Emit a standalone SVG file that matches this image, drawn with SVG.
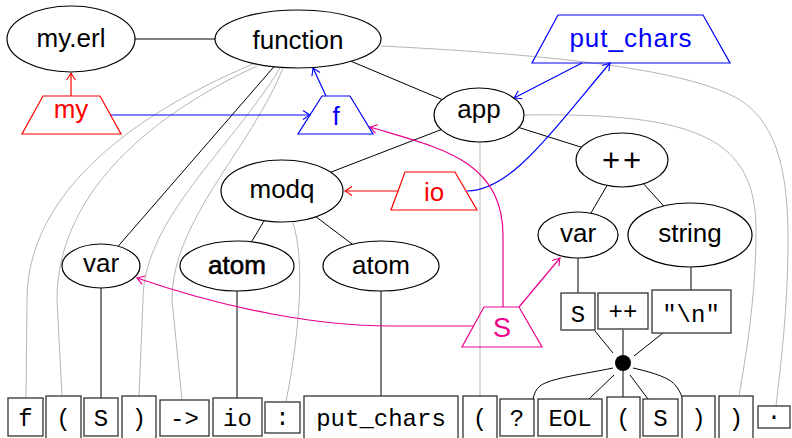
<svg xmlns="http://www.w3.org/2000/svg" width="792" height="438" viewBox="0 0 792 438">
  <style>
    .edge { stroke: #000; stroke-width: 1; fill: none; }
    .faint { stroke: #b5b5b5; stroke-width: 1; fill: none; }
    .ell { fill: #fff; stroke: #000; stroke-width: 1.2; }
    .lbl { font-family: "Liberation Sans", Arial, sans-serif; font-size: 26px; text-anchor: middle; fill: #000; }
    .tok { fill: #fff; stroke: #333; stroke-width: 1.3; }
    .tt { font-family: "Liberation Mono", "Courier New", monospace; font-size: 24px; text-anchor: middle; fill: #000; }
    .red { stroke: #ff0000; fill: none; stroke-width: 1.2; }
    .blue { stroke: #0000ff; fill: none; stroke-width: 1.2; }
    .pink { stroke: #ec008c; fill: none; stroke-width: 1.2; }
  </style>
  <defs>
    <marker id="ah-red" viewBox="-9 -6 11 12" refX="0" refY="0" markerWidth="11" markerHeight="12" markerUnits="userSpaceOnUse" orient="auto">
      <path d="M-7,-4.5 Q-2,-1 0,0 Q-2,1 -7,4.5" fill="none" stroke="#ff0000" stroke-width="1.1"/>
    </marker>
    <marker id="ah-blue" viewBox="-9 -6 11 12" refX="0" refY="0" markerWidth="11" markerHeight="12" markerUnits="userSpaceOnUse" orient="auto">
      <path d="M-7,-4.5 Q-2,-1 0,0 Q-2,1 -7,4.5" fill="none" stroke="#0000ff" stroke-width="1.1"/>
    </marker>
    <marker id="ah-pink" viewBox="-9 -6 11 12" refX="0" refY="0" markerWidth="11" markerHeight="12" markerUnits="userSpaceOnUse" orient="auto">
      <path d="M-7,-4.5 Q-2,-1 0,0 Q-2,1 -7,4.5" fill="none" stroke="#ec008c" stroke-width="1.1"/>
    </marker>
  </defs>

  <g id="connectors">
    <!-- token links (grey) -->
    <path class="faint" d="M253,64 C120,120 27,200 27,300 L26,398"/>
    <path class="faint" d="M257,66 C140,120 57,200 57,300 L62,396"/>
    <path class="faint" d="M280,68 C230,150 143,220 143,300 L139,396"/>
    <path class="faint" d="M283,68 C250,150 172,220 172,300 L182,400"/>
    <path class="faint" d="M293,223 C305,260 300,330 286,402"/>
    <path class="faint" d="M480,142 L480,396"/>
    <path class="faint" d="M524,115 C700,112 756,140 756,230 C756,300 745,360 739,396"/>
    <path class="faint" d="M381,46 C560,55 690,70 740,100 C780,125 788,180 788,240 C788,310 780,370 776,406"/>

    <!-- syntax tree (black) -->
    <line class="edge" x1="135" y1="39" x2="215" y2="39"/>
    <line class="edge" x1="298" y1="39" x2="479" y2="115"/>
    <line class="edge" x1="298" y1="39" x2="101" y2="266"/>
    <line class="edge" x1="479" y1="115" x2="282" y2="191"/>
    <line class="edge" x1="479" y1="115" x2="622" y2="160"/>
    <line class="edge" x1="282" y1="191" x2="237" y2="266"/>
    <line class="edge" x1="282" y1="191" x2="381" y2="266"/>
    <line class="edge" x1="622" y1="160" x2="578" y2="235"/>
    <line class="edge" x1="622" y1="160" x2="690" y2="235"/>
    <line class="edge" x1="101" y1="266" x2="101" y2="398"/>
    <line class="edge" x1="237" y1="266" x2="237" y2="398"/>
    <line class="edge" x1="381" y1="266" x2="381" y2="397"/>
    <line class="edge" x1="578" y1="235" x2="578" y2="293"/>
    <line class="edge" x1="691" y1="235" x2="691" y2="290"/>

    <!-- junction fan -->
    <line class="edge" x1="613" y1="353" x2="595" y2="331"/>
    <line class="edge" x1="623" y1="355" x2="623" y2="330"/>
    <line class="edge" x1="634" y1="356" x2="663" y2="333"/>
    <path class="edge" d="M613,368 C585,374 550,378 540,386 C536,389 534,394 533,399"/>
    <line class="edge" x1="614" y1="375" x2="589" y2="399"/>
    <line class="edge" x1="623" y1="371" x2="623" y2="397"/>
    <line class="edge" x1="630" y1="375" x2="648" y2="399"/>
    <path class="edge" d="M633,368 C655,373 670,378 676,386 C679,390 681,394 682,397"/>

    <!-- coloured links -->
    <line class="red" x1="71" y1="96" x2="71" y2="73" marker-end="url(#ah-red)"/>
    <line class="red" x1="398" y1="191" x2="345" y2="191" marker-end="url(#ah-red)"/>
    <line class="blue" x1="110" y1="115" x2="310" y2="115" marker-end="url(#ah-blue)"/>
    <line class="blue" x1="326" y1="96" x2="313" y2="68" marker-end="url(#ah-blue)"/>
    <line class="blue" x1="582" y1="63" x2="514" y2="98" marker-end="url(#ah-blue)"/>
    <path class="blue" d="M467,191 C510,190 545,140 610,63" marker-end="url(#ah-blue)"/>
    <path class="pink" d="M503,307 L503,235 C503,160 440,148 370,127" marker-end="url(#ah-pink)"/>
    <line class="pink" x1="519" y1="307" x2="560" y2="258" marker-end="url(#ah-pink)"/>
    <path class="pink" d="M474,326 L390,326 C320,326 230,310 137,278" marker-end="url(#ah-pink)"/>
  </g>

  <!-- tree nodes -->
  <g id="n-myerl"><ellipse class="ell" cx="71" cy="39" rx="64" ry="33"/><text class="lbl" x="71" y="47">my.erl</text></g>
  <g id="n-function"><ellipse class="ell" cx="298" cy="39" rx="83" ry="29"/><text class="lbl" x="298" y="49">function</text></g>
  <g id="n-app"><ellipse class="ell" cx="479" cy="115" rx="45" ry="27"/><text class="lbl" x="479" y="118">app</text></g>
  <g id="n-modq"><ellipse class="ell" cx="282" cy="191" rx="61" ry="31"/><text class="lbl" x="282" y="198">modq</text></g>
  <g id="n-var1"><ellipse class="ell" cx="101" cy="266" rx="39" ry="22"/><text class="lbl" x="101" y="272">var</text></g>
  <g id="n-atom1"><ellipse class="ell" cx="237" cy="266" rx="57" ry="25" stroke-width="2"/><text class="lbl" x="237" y="274" stroke="#000" stroke-width="0.6">atom</text></g>
  <g id="n-atom2"><ellipse class="ell" cx="381" cy="266" rx="58" ry="25"/><text class="lbl" x="381" y="274">atom</text></g>
  <g id="n-concat"><ellipse class="ell" cx="622" cy="160" rx="46" ry="27"/><text class="lbl" x="623" y="171" style="font-size:31px;letter-spacing:3px">++</text></g>
  <g id="n-var2"><ellipse class="ell" cx="578" cy="235" rx="40" ry="23"/><text class="lbl" x="578" y="242">var</text></g>
  <g id="n-string"><ellipse class="ell" cx="690" cy="235" rx="62" ry="32"/><text class="lbl" x="690" y="242">string</text></g>

  <!-- name nodes -->
  <g id="n-my"><polygon class="red" points="43,96 100,96 121,134 22,134"/><text class="lbl" x="71" y="118" style="fill:#ff0000">my</text></g>
  <g id="n-f"><polygon class="blue" points="322,96 350,96 373,134 298,134"/><text class="lbl" x="336" y="125" style="fill:#0000ff">f</text></g>
  <g id="n-putchars"><polygon class="blue" points="558,15 703,15 730,63 532,63"/><text class="lbl" x="631" y="47" style="fill:#0000ff;letter-spacing:1px">put_chars</text></g>
  <g id="n-io"><polygon class="red" points="405,172 455,172 477,210 391,210"/><text class="lbl" x="434" y="201" style="fill:#ff0000">io</text></g>
  <g id="n-S"><polygon class="pink" points="484,307 519,307 542,347 462,347"/><text class="lbl" x="502" y="337" style="fill:#ec008c;font-size:27px">S</text></g>

  <!-- string pieces -->
  <g id="t-S2"><rect class="tok" x="561" y="293" width="34" height="37"/><text class="tt" x="578" y="322">S</text></g>
  <g id="t-pp"><rect class="tok" x="598" y="293" width="50" height="36"/><text class="tt" x="623" y="319">++</text></g>
  <g id="t-nl"><rect class="tok" x="652" y="290" width="79" height="43"/><text class="tt" x="691" y="322">"\n"</text></g>
  <g id="junction"><circle cx="623" cy="363" r="8" fill="#000"/></g>

  <!-- token row -->
  <g id="t-f"><rect class="tok" x="8" y="398" width="35" height="38"/><text class="tt" x="25.5" y="426">f</text></g>
  <g id="t-lp1"><rect class="tok" x="46" y="396" width="35" height="50"/><text class="tt" x="63.5" y="426">(</text></g>
  <g id="t-S1"><rect class="tok" x="84" y="398" width="34" height="38"/><text class="tt" x="101" y="426">S</text></g>
  <g id="t-rp1"><rect class="tok" x="122" y="396" width="34" height="50"/><text class="tt" x="139" y="426">)</text></g>
  <g id="t-arrow"><rect class="tok" x="160" y="400" width="49" height="36"/><text class="tt" x="184.5" y="426">-&gt;</text></g>
  <g id="t-io"><rect class="tok" x="213" y="398" width="49" height="38"/><text class="tt" x="237.5" y="426">io</text></g>
  <g id="t-colon"><rect class="tok" x="265" y="402" width="35" height="31"/><text class="tt" x="282.5" y="425">:</text></g>
  <g id="t-putchars"><rect class="tok" x="304" y="396" width="154" height="50"/><text class="tt" x="381" y="426">put_chars</text></g>
  <g id="t-lp2"><rect class="tok" x="463" y="396" width="34" height="50"/><text class="tt" x="480" y="426">(</text></g>
  <g id="t-q"><rect class="tok" x="500" y="399" width="34" height="37"/><text class="tt" x="517" y="426">?</text></g>
  <g id="t-eol"><rect class="tok" x="538" y="399" width="64" height="37"/><text class="tt" x="570" y="426">EOL</text></g>
  <g id="t-lp3"><rect class="tok" x="607" y="397" width="33" height="49"/><text class="tt" x="623.5" y="426">(</text></g>
  <g id="t-S3"><rect class="tok" x="643" y="399" width="35" height="37"/><text class="tt" x="660.5" y="426">S</text></g>
  <g id="t-rp2"><rect class="tok" x="682" y="396" width="33" height="50"/><text class="tt" x="698.5" y="426">)</text></g>
  <g id="t-rp3"><rect class="tok" x="719" y="396" width="34" height="50"/><text class="tt" x="736" y="426">)</text></g>
  <g id="t-dot"><rect class="tok" x="758" y="406" width="32" height="22"/><text class="tt" x="774" y="424">·</text></g>
</svg>
